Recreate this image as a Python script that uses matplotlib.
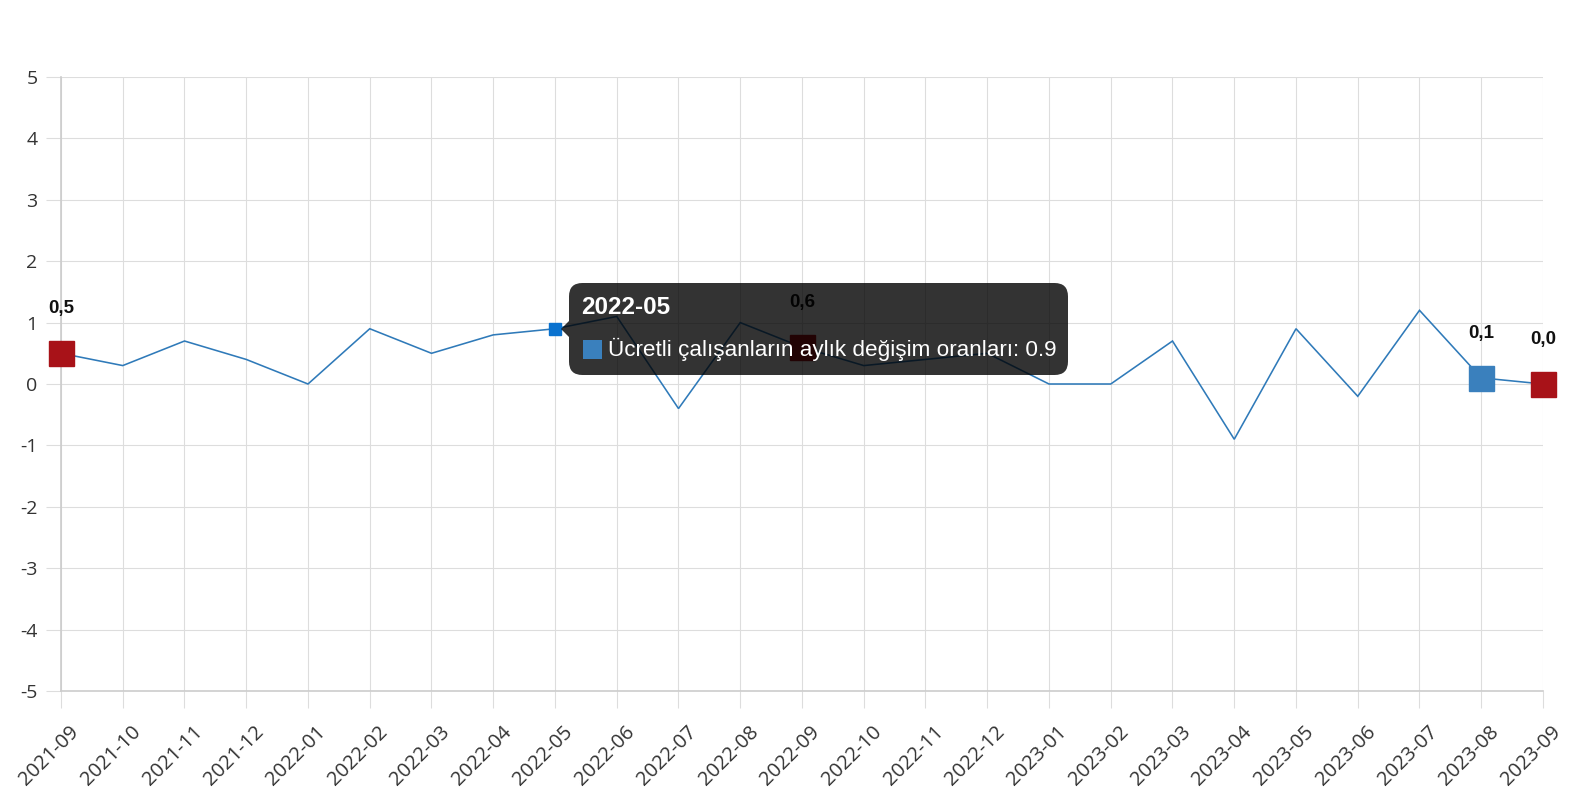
import matplotlib
matplotlib.use("Agg")
import matplotlib.pyplot as plt
from matplotlib.patches import FancyBboxPatch, Polygon, Rectangle
from matplotlib.transforms import ScaledTranslation

# ---- data ----
months = ["2021-09", "2021-10", "2021-11", "2021-12", "2022-01", "2022-02", "2022-03",
          "2022-04", "2022-05", "2022-06", "2022-07", "2022-08", "2022-09", "2022-10",
          "2022-11", "2022-12", "2023-01", "2023-02", "2023-03", "2023-04", "2023-05",
          "2023-06", "2023-07", "2023-08", "2023-09"]
values = [0.5, 0.3, 0.7, 0.4, 0.0, 0.9, 0.5, 0.8, 0.9, 1.1, -0.4, 1.0, 0.6, 0.3,
          0.4, 0.5, 0.0, 0.0, 0.7, -0.9, 0.9, -0.2, 1.2, 0.1, 0.0]
series_name = "Ücretli çalışanların aylık değişim oranları"
y_ticks = [-5, -4, -3, -2, -1, 0, 1, 2, 3, 4, 5]
red_marked = ["2021-09", "2022-09", "2023-09"]
blue_marked = ["2023-08"]
labelled = ["2021-09", "2022-09", "2023-08", "2023-09"]
tooltip_month = "2022-05"

W, H = 1576, 800
fig = plt.figure(figsize=(W / 100, H / 100), dpi=100)
ax = fig.add_axes([61 / W, 1 - 691 / H, (1543 - 61) / W, (691 - 77) / H])

x = list(range(len(months)))
line_color = "#2f7ab9"
grid_color = "#dddddd"
text_color = "#333333"

ax.plot(x, values, color=line_color, lw=1.15, zorder=3, solid_joinstyle="miter",
        clip_on=False)

for m in red_marked:
    i = months.index(m)
    ax.plot(i, values[i], marker="s", ms=18, color="#a81218", mec="#a81218", zorder=4,
            clip_on=False)
for m in blue_marked:
    i = months.index(m)
    ax.plot(i, values[i], marker="s", ms=18, color="#3a80bd", mec="#3a80bd", zorder=4,
            clip_on=False)

ti = months.index(tooltip_month)
ax.plot(ti, values[ti], marker="s", ms=8.5, color="#0a72cf", mec="#0a72cf", zorder=4,
        clip_on=False)

for m in labelled:
    i = months.index(m)
    ax.annotate(f"{values[i]:.1f}".replace(".", ","), (i, values[i]),
                xytext=(0, 32), textcoords="offset points", ha="center", va="center",
                fontsize=13.5, fontweight="bold", color="#111111", zorder=10,
                family="Liberation Sans", annotation_clip=False)

ax.set_xlim(0, len(months) - 1)
ax.set_ylim(-5, 5)
ax.set_yticks(y_ticks)
ax.set_yticklabels([str(v) for v in y_ticks])
ax.set_xticks(x)
ax.set_xticklabels(months, rotation=45, ha="right", va="top", rotation_mode="anchor")

ax.grid(True, color=grid_color, lw=0.8, zorder=0)
ax.set_axisbelow(True)
for s in ["top", "right"]:
    ax.spines[s].set_visible(False)
for s in ["left", "bottom"]:
    ax.spines[s].set_color("#cccccc")
    ax.spines[s].set_linewidth(1.2)
ax.tick_params(axis="y", length=11, color=grid_color, width=0.8, labelsize=14,
               labelcolor=text_color, pad=6)
ax.tick_params(axis="x", length=12, color=grid_color, width=0.8, labelsize=14.5,
               labelcolor=text_color, pad=5)
for lab in ax.get_xticklabels() + ax.get_yticklabels():
    lab.set_family("Open Sans")
shift = ScaledTranslation(8 / 100, -7 / 100, fig.dpi_scale_trans)
for lab in ax.get_xticklabels():
    lab.set_transform(lab.get_transform() + shift)

# ---- tooltip overlay (pixel positions) ----
def fx(px):
    return px / W

def fy(py):
    return 1 - py / H

bx0, by0, bx1, by1 = 569, 283, 1068, 375
box = FancyBboxPatch((fx(bx0), fy(by1)), fx(bx1 - bx0), (by1 - by0) / H,
                     boxstyle="round,pad=0,rounding_size=0.0085",
                     transform=fig.transFigure, facecolor="black", alpha=0.8,
                     edgecolor="none", zorder=6, mutation_aspect=W / H)
fig.patches.append(box)
tri = Polygon([(fx(569), fy(321)), (fx(561), fy(329)), (fx(569), fy(337))],
              closed=True, transform=fig.transFigure, facecolor="black", alpha=0.8,
              edgecolor="none", zorder=6)
fig.patches.append(tri)
fig.text(fx(581), fy(308), tooltip_month, color="white", fontsize=17.5, fontweight="bold",
         ha="left", va="center", family="Liberation Sans", zorder=7)
sq = Rectangle((fx(583), fy(359)), fx(19), 19 / H, transform=fig.transFigure,
               facecolor="#3a80bd", edgecolor="none", zorder=7)
fig.patches.append(sq)
fig.text(fx(608), fy(349), f"{series_name}: {values[ti]}", color="white", fontsize=16.2,
         ha="left", va="center", family="Liberation Sans", zorder=7)

fig.savefig("out.png", dpi=100)
